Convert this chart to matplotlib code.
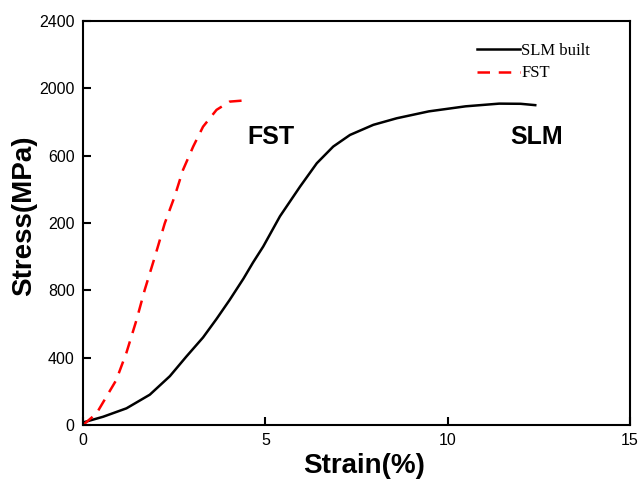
import matplotlib.pyplot as plt

# strain (%) / stress (MPa)
slm_strain = [0, 0.55, 1.19, 1.83, 2.38, 2.83, 3.29, 3.66, 4.02, 4.4, 4.66, 4.94, 5.4,
              5.95, 6.41, 6.86, 7.32, 7.96, 8.6, 9.48, 10.49, 11.41, 12.0, 12.4]
slm_stress = [15, 49, 99, 180, 290, 406, 520, 630, 743, 870, 965, 1060, 1240,
              1416, 1555, 1654, 1723, 1783, 1822, 1863, 1893, 1909, 1908, 1900]

fst_strain = [0, 0.37, 0.91, 1.19, 1.46, 1.69, 1.97, 2.24, 2.51, 2.74, 3.02, 3.29, 3.66, 4.02, 4.37]
fst_stress = [0, 69, 267, 430, 620, 802, 1000, 1198, 1357, 1515, 1654, 1772, 1872, 1921, 1927]

y_ticks = [0, 400, 800, 1200, 1600, 2000, 2400]
y_tick_labels = ['0', '400', '800', '200', '600', '2000', '2400']
x_ticks = [0, 5, 10, 15]

fig = plt.figure(figsize=(6.39, 4.8), dpi=100)
ax = fig.add_axes([0.130, 0.1146, 0.856, 0.8417])

ax.plot(slm_strain, slm_stress, color='black', linewidth=1.8, label='SLM built')
ax.plot(fst_strain, fst_stress, color='red', linewidth=1.8, linestyle=(0, (5, 3.5)), label='FST')

ax.set_xlim(0, 15)
ax.set_ylim(0, 2400)
ax.set_xticks(x_ticks)
ax.set_yticks(y_ticks)
ax.set_yticklabels(y_tick_labels)
ax.tick_params(direction='in', length=6, width=1.5, labelsize=11.5, pad=6)
for lab in ax.get_xticklabels() + ax.get_yticklabels():
    lab.set_family('Liberation Sans')
for s in ax.spines.values():
    s.set_linewidth(1.5)

ax.set_xlabel('Strain(%)', fontsize=20, fontweight='bold', family='Liberation Sans')
ax.set_ylabel('Stress(MPa)', fontsize=20, fontweight='bold', family='Liberation Sans')
ax.xaxis.set_label_coords(0.514, -0.069)
ax.yaxis.set_label_coords(-0.084, 0.517)

ax.text(5.15, 1711, 'FST', fontsize=18, fontweight='bold', family='Liberation Sans', ha='center', va='center')
ax.text(12.45, 1711, 'SLM', fontsize=18, fontweight='bold', family='Liberation Sans', ha='center', va='center')

ax.legend(loc='upper right', frameon=False, prop={'family': 'Liberation Serif', 'size': 12},
          handlelength=2.6, handletextpad=0.05, borderpad=0, borderaxespad=0,
          labelspacing=0.4, bbox_to_anchor=(0.927, 0.946))

fig.savefig('out.png', dpi=100)
